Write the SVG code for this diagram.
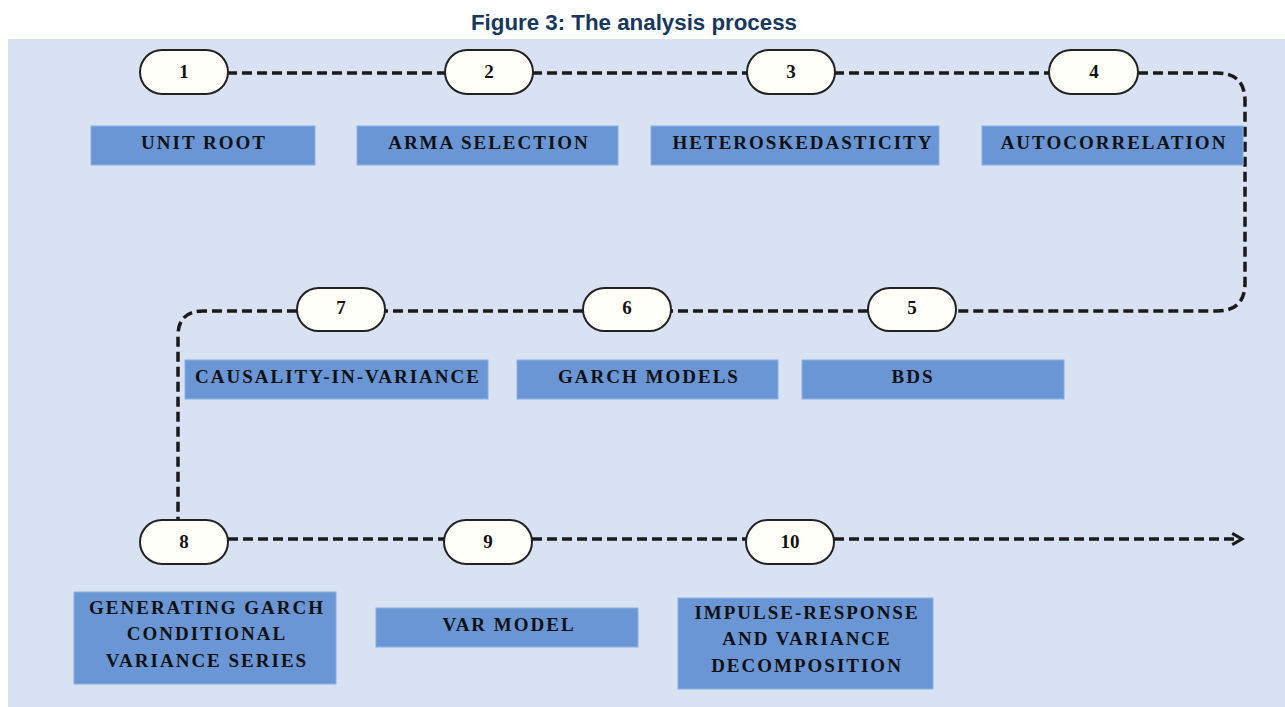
<svg xmlns="http://www.w3.org/2000/svg" width="1285" height="707" viewBox="0 0 1285 707">
<style>
.title{font-family:"Liberation Sans",Arial,sans-serif;font-weight:bold;font-size:22px;fill:#17375e}
.pill{fill:#fffef9;stroke:#222;stroke-width:2}
.num{font-family:"Liberation Serif","Times New Roman",serif;font-weight:bold;font-size:19px;fill:#111;text-anchor:middle;dominant-baseline:central}
.box{fill:#6a96d6;stroke:#8aaee0;stroke-width:1}
.lbl{font-family:"Liberation Serif","Times New Roman",serif;font-weight:bold;font-size:19px;letter-spacing:2px;fill:#111;text-anchor:middle}
.con{fill:none;stroke:#1a1a1a;stroke-width:3.5;stroke-dasharray:10 5}
</style>
<defs>
<marker id="arr" viewBox="0 0 10 10" refX="8" refY="5" markerWidth="4" markerHeight="4" orient="auto" markerUnits="strokeWidth">
<path d="M1 1 L8 5 L1 9" fill="none" stroke="#1a1a1a" stroke-width="2.2"/>
</marker>
</defs>
<rect x="8" y="39" width="1277" height="668" fill="#d9e2f3"/>
<text class="title" x="634" y="30" text-anchor="middle" textLength="326" lengthAdjust="spacingAndGlyphs">Figure 3: The analysis process</text>
<g id="connectors">
<path class="con" d="M227 73 H445"/>
<path class="con" d="M532 73 H747"/>
<path class="con" d="M834 73 H1049"/>
<path class="con" d="M1138 73 H1217 Q1245 73 1245 101 V283 Q1245 311 1217 311 H956"/>
<path class="con" d="M868 311 H671"/>
<path class="con" d="M583 311 H385"/>
<path class="con" d="M297 311 H203 Q178 311 178 336 V521"/>
<path class="con" d="M228 539 H446"/>
<path class="con" d="M532 539 H746"/>
<path class="con" d="M834 539 H1242" marker-end="url(#arr)"/>
</g>
<g id="step1"><rect class="pill" x="140" y="50" width="88" height="44" rx="22"/><text class="num" x="184" y="71">1</text>
<rect class="box" x="91" y="126" width="224" height="39"/><text class="lbl" x="204" y="149">UNIT ROOT</text></g>
<g id="step2"><rect class="pill" x="445" y="50" width="88" height="44" rx="22"/><text class="num" x="489" y="71">2</text>
<rect class="box" x="357" y="126" width="261" height="39"/><text class="lbl" x="489" y="149">ARMA SELECTION</text></g>
<g id="step3"><rect class="pill" x="747" y="50" width="88" height="44" rx="22"/><text class="num" x="791" y="71">3</text>
<rect class="box" x="651" y="126" width="288" height="39"/><text class="lbl" x="803" y="149">HETEROSKEDASTICITY</text></g>
<g id="step4"><rect class="pill" x="1049" y="50" width="89" height="44" rx="22"/><text class="num" x="1094" y="71">4</text>
<rect class="box" x="982" y="126" width="261" height="39"/><text class="lbl" x="1114" y="149">AUTOCORRELATION</text></g>
<g id="step5"><rect class="pill" x="868" y="288" width="88" height="43" rx="21.5"/><text class="num" x="912" y="307">5</text>
<rect class="box" x="802" y="360" width="262" height="39"/><text class="lbl" x="913" y="383">BDS</text></g>
<g id="step6"><rect class="pill" x="583" y="288" width="88" height="43" rx="21.5"/><text class="num" x="627" y="307">6</text>
<rect class="box" x="517" y="360" width="261" height="39"/><text class="lbl" x="649" y="383">GARCH MODELS</text></g>
<g id="step7"><rect class="pill" x="297" y="288" width="88" height="43" rx="21.5"/><text class="num" x="341" y="307">7</text>
<rect class="box" x="185" y="360" width="303" height="39"/><text class="lbl" x="338" y="383">CAUSALITY-IN-VARIANCE</text></g>
<g id="step8"><rect class="pill" x="140" y="520" width="88" height="44" rx="22"/><text class="num" x="184" y="541">8</text>
<rect class="box" x="74" y="592" width="262" height="92"/>
<text class="lbl" x="207" y="614">GENERATING GARCH</text>
<text class="lbl" x="207" y="640">CONDITIONAL</text>
<text class="lbl" x="207" y="667">VARIANCE SERIES</text></g>
<g id="step9"><rect class="pill" x="444" y="520" width="88" height="44" rx="22"/><text class="num" x="488" y="541">9</text>
<rect class="box" x="376" y="608" width="262" height="39"/><text class="lbl" x="509" y="631">VAR MODEL</text></g>
<g id="step10"><rect class="pill" x="746" y="520" width="88" height="44" rx="22"/><text class="num" x="790" y="541">10</text>
<rect class="box" x="678" y="598" width="255" height="91"/>
<text class="lbl" x="807" y="619">IMPULSE-RESPONSE</text>
<text class="lbl" x="807" y="645">AND VARIANCE</text>
<text class="lbl" x="807" y="672">DECOMPOSITION</text></g>
</svg>
